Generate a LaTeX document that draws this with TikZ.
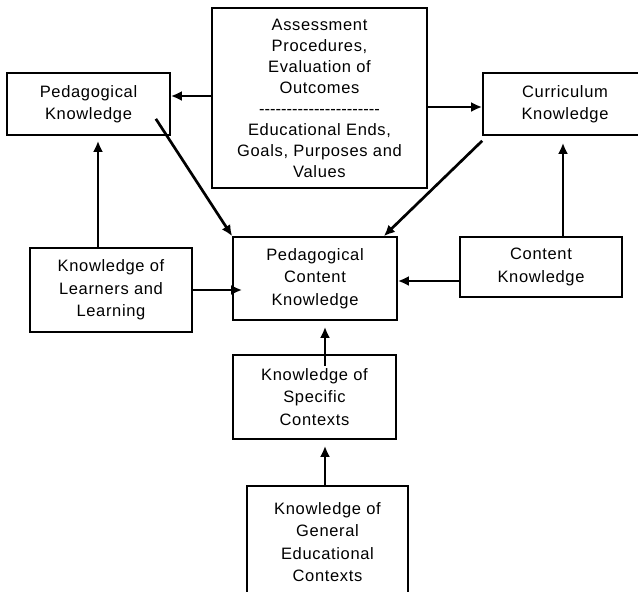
\documentclass[tikz,border=0pt]{standalone}
\usepackage{fontspec}
\setmainfont{Liberation Sans}[LetterSpace=4]
\usetikzlibrary{arrows.meta}

\tikzset{
  box/.style={draw, line width=1.7pt, align=center, inner sep=0pt,
    font=\fontsize{16.5}{22.5}\selectfont},
  arr/.style={line width=2.7pt, -{Latex[length=11pt,width=10pt]}}
}
\newcommand{\dashrow}{\foreach \i in {1,...,22}{\mbox{-}}}

\begin{document}
\begin{tikzpicture}[x=1pt,y=-1pt]

\clip (0,0) rectangle (638,592);
\fill[white] (0,0) rectangle (638,592);

% boxes
\node[box, minimum width=215pt, minimum height=180pt,
  font=\fontsize{16.5}{21}\selectfont] (assess) at (319.5,98)
  {Assessment\\Procedures,\\Evaluation of\\Outcomes\\\dashrow\\Educational Ends,\\Goals, Purposes and\\Values};
\node[box, minimum width=163pt, minimum height=62pt] (ped) at (88.5,104) {Pedagogical\\Knowledge};
\node[box, minimum width=164pt, minimum height=62pt] (curr) at (565,104) {Curriculum\\Knowledge};
\node[box, minimum width=164pt, minimum height=83pt] (pck) at (315,278.5) {Pedagogical\\Content\\Knowledge};
\node[box, minimum width=162pt, minimum height=84pt] (learn) at (111,290) {Knowledge of\\Learners and\\Learning};
\node[box, minimum width=162pt, minimum height=60pt] (content) at (541,267) {Content\\Knowledge};
\node[box, minimum width=163pt, minimum height=84pt] (spec) at (314.5,397) {Knowledge of\\Specific\\Contexts};
\node[box, minimum width=161pt, minimum height=112pt] (gen) at (327.5,542) {Knowledge of\\General\\Educational\\Contexts};

% arrows
\draw[arr] ([yshift=2pt]assess.west) -- ([yshift=2pt]assess.west -| ped.east);
\draw[arr] ([yshift=-9pt]assess.east) -- ([yshift=-9pt]assess.east -| curr.west);
\draw[arr] ([xshift=-15pt,yshift=17pt]ped.south east) -- (pck.north west);
\draw[arr] ([yshift=-5pt]curr.south west) -- ([xshift=-14pt]pck.north east);
\draw[arr] ([yshift=-14pt]content.west) -- ([yshift=-14pt]content.west -| pck.east);
\draw[arr] ([xshift=-2pt]learn.east) -- ([xshift=10pt]learn.east -| pck.west);
\draw[arr, shorten >=5pt] ([xshift=-13pt]learn.north) -- ([xshift=-13pt]learn.north |- ped.south);
\draw[arr, shorten >=7pt] ([xshift=22pt]content.north) -- ([xshift=22pt]content.north |- curr.south);
\draw[arr, shorten >=6pt] ([xshift=10.5pt,yshift=-12pt]spec.north) -- ([xshift=10.5pt]spec.north |- pck.south);
\draw[arr, shorten >=6pt] ([xshift=-2.5pt]gen.north) -- ([xshift=-2.5pt]gen.north |- spec.south);

\end{tikzpicture}
\end{document}
